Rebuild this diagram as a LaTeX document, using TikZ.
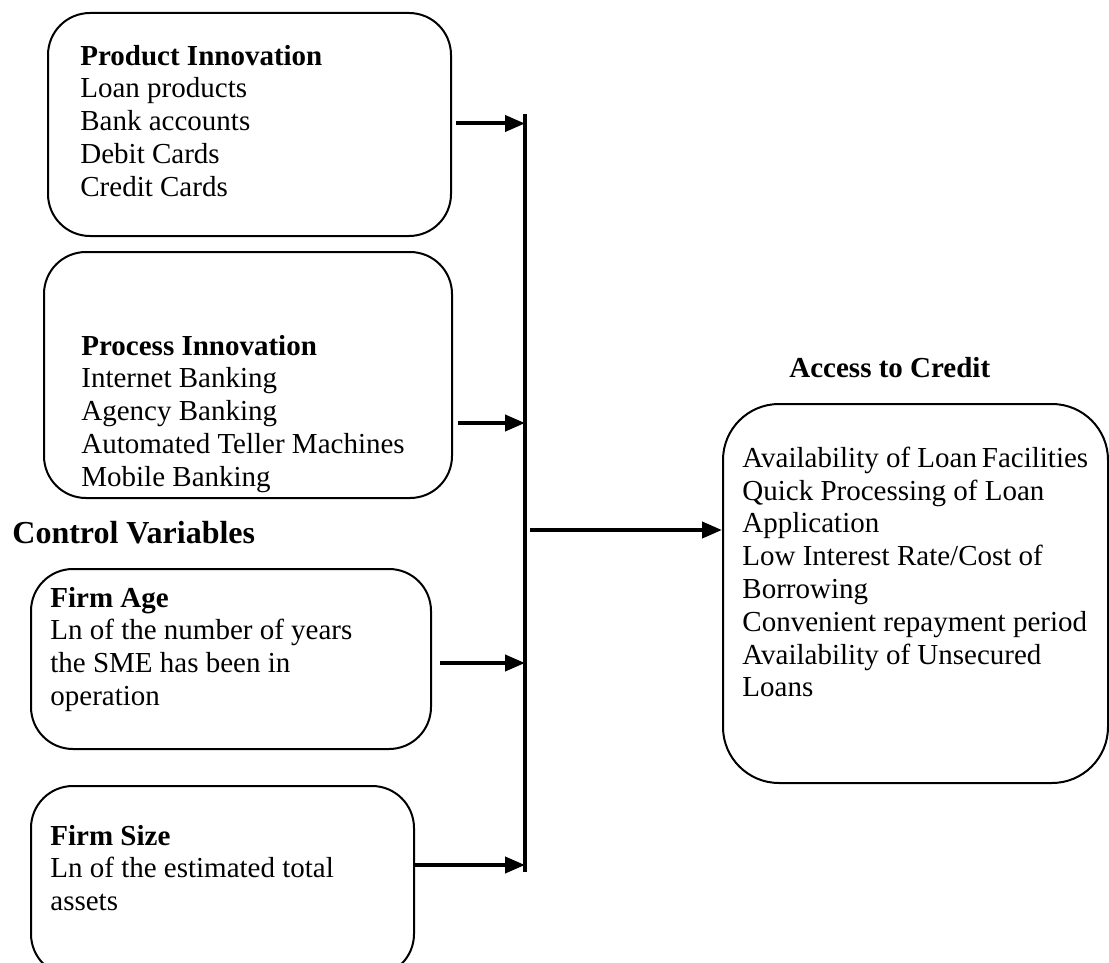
\documentclass[tikz,border=0pt]{standalone}
\usepackage{fontspec}
\setmainfont{Liberation Serif}
\usepackage{tikz}
\usetikzlibrary{arrows.meta,positioning,calc}

\begin{document}
\begin{tikzpicture}[
    x=0.5pt, y=-0.5pt,
    box/.style={rectangle, draw, line width=1pt, rounded corners=#1, anchor=north west, inner sep=0pt},
    box/.default=21pt,
    txt/.style={anchor=north west, inner sep=0pt, align=left, font=\fontsize{14.5pt}{16.4pt}\selectfont},
    head/.style={anchor=north west, inner sep=0pt, font=\fontsize{#1}{#1}\selectfont\bfseries},
    arr/.style={-{Triangle[length=10pt,width=8pt]}, line width=2pt}
]
\clip (0,0) rectangle (1109,963);
% left boxes
\node[box, minimum width=201.5pt, minimum height=111.5pt] (prod) at (47,12) {};
\node[box, minimum width=204pt, minimum height=123pt] (proc) at (43,251) {};
\node[box, minimum width=200pt, minimum height=90pt] (age) at (30,568) {};
\node[box, minimum width=191.5pt, minimum height=95pt] (size) at (30,785) {};
\node[box=28pt, minimum width=192.5pt, minimum height=189.5pt] (credit) at (722,403) {};

\node[txt] (prodtxt) at (80,44.5) {\textbf{Product Innovation}\\Loan products\\Bank accounts\\Debit Cards\\Credit Cards};
\node[txt] (proctxt) at (81,334.5) {\textbf{Process Innovation}\\Internet Banking\\Agency Banking\\Automated Teller Machines\\Mobile Banking};
\node[head=16pt] (ctrl) at (12,521) {Control Variables};
\node[txt] (agetxt) at (50,586.5) {\textbf{Firm Age}\\Ln of the number of years\\the SME has been in\\operation};
\node[txt] (sizetxt) at (50,824.5) {\textbf{Firm Size}\\Ln of the estimated total\\assets};
\node[head=14.5pt] (acc) at (789,356.5) {Access to Credit};
\node[txt] (credittxt) at (742,446.5) {Availability of Loan\,Facilities\\Quick Processing of Loan\\Application\\Low Interest Rate/Cost of\\Borrowing\\Convenient repayment period\\Availability of Unsecured\\Loans};

% joining line
\coordinate (bustop) at (525,114);
\coordinate (busbot) at (525,872);
\draw[line width=2pt] (bustop) -- (busbot);

\coordinate (prodout) at ([shift={(2pt,0.5pt)}]prod.east);
\coordinate (procout) at ([shift={(2.5pt,-24pt)}]proc.east);
\coordinate (ageout) at ([shift={(4pt,-2pt)}]age.east);
\coordinate (sizeout) at ([shift={(0pt,8pt)}]size.east);
\coordinate (busout) at (530,530);
\draw[arr] (prodout) -- (prodout -| bustop);
\draw[arr] (procout) -- (procout -| bustop);
\draw[arr] (ageout) -- (ageout -| bustop);
\draw[arr] (sizeout) -- (sizeout -| bustop);
\draw[arr] (busout) -- (busout -| credit.west);
\end{tikzpicture}
\end{document}
